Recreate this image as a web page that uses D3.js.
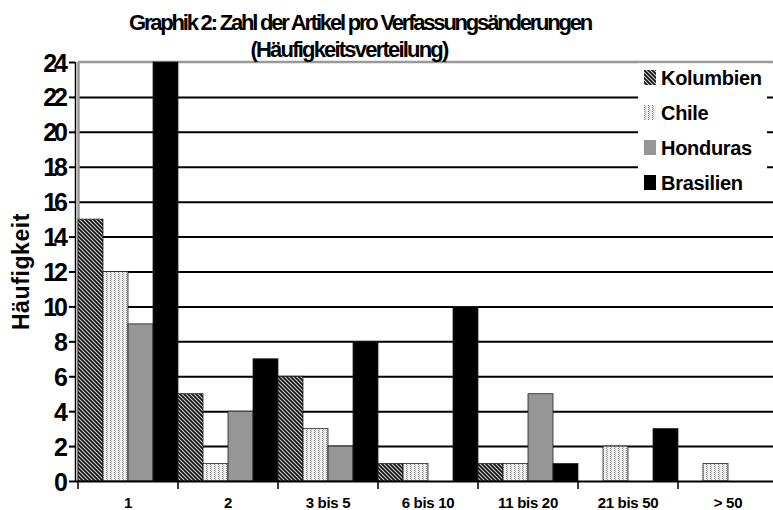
<!DOCTYPE html>
<html>
<head>
<meta charset="utf-8">
<script src="https://cdn.jsdelivr.net/npm/d3@7"></script>
<style>
  body { margin: 0; background: #fff; }
  svg { display: block; font-family: "Liberation Sans", Arial, sans-serif; font-weight: bold; }
</style>
</head>
<body>
<svg id="chart"></svg>
<script>
const categories = ["1", "2", "3 bis 5", "6 bis 10", "11 bis 20", "21 bis 50", "> 50"];
const series = ["Kolumbien", "Chile", "Honduras", "Brasilien"];
const kolumbien = [15, 5, 6, 1, 1, 0, 0];
const chile = [12, 1, 3, 1, 1, 2, 1];
const honduras = [9, 4, 2, 0, 5, 0, 0];
const brasilien = [24, 7, 8, 10, 1, 3, 0];
const yTicks = [0, 2, 4, 6, 8, 10, 12, 14, 16, 18, 20, 22, 24];

const values = [kolumbien, chile, honduras, brasilien];
const data = categories.map((c, i) => ({
  cat: c,
  vals: series.map((s, j) => ({ key: s, value: values[j][i] }))
}));

const W = 773, H = 510;
const plotLeft = 78, plotTop = 62, plotBottom = 481, plotRight = 778;
const axisX = 75;

const svg = d3.select("#chart").attr("width", W).attr("height", H);

// fill patterns
const defs = svg.append("defs");
const pk = defs.append("pattern").attr("id", "pKol")
  .attr("patternUnits", "userSpaceOnUse").attr("width", 4).attr("height", 4);
pk.append("rect").attr("width", 4).attr("height", 4).attr("fill", "#d0d0d0");
pk.append("path").attr("d", "M-1,-1 L5,5 M-1,3 L1,5 M3,-1 L5,1")
  .attr("stroke", "#111").attr("stroke-width", 1.7);

const pc = defs.append("pattern").attr("id", "pChi")
  .attr("patternUnits", "userSpaceOnUse").attr("width", 4).attr("height", 4);
pc.append("rect").attr("width", 4).attr("height", 4).attr("fill", "#eeeeee");
pc.append("rect").attr("x", 0).attr("y", 0).attr("width", 1).attr("height", 1).attr("fill", "#888");
pc.append("rect").attr("x", 1).attr("y", 1).attr("width", 1).attr("height", 1).attr("fill", "#aaa");
pc.append("rect").attr("x", 0).attr("y", 2).attr("width", 1).attr("height", 1).attr("fill", "#888");
pc.append("rect").attr("x", 1).attr("y", 3).attr("width", 1).attr("height", 1).attr("fill", "#aaa");

const fills = {
  "Kolumbien": "url(#pKol)",
  "Chile": "url(#pChi)",
  "Honduras": "#969696",
  "Brasilien": "#000"
};

const x = d3.scaleBand().domain(categories).range([plotLeft, plotRight]).padding(0);
const xs = d3.scaleBand().domain(series).range([0, x.bandwidth()]).padding(0);
const y = d3.scaleLinear().domain([0, 24]).range([plotBottom, plotTop]);

// grid lines
svg.append("g").selectAll("line")
  .data(yTicks.filter(t => t > 0 && t < 24))
  .enter().append("line")
  .attr("x1", plotLeft).attr("x2", W)
  .attr("y1", d => y(d) + 0.5).attr("y2", d => y(d) + 0.5)
  .attr("stroke", "#000").attr("stroke-width", 2);

// top border
svg.append("line")
  .attr("x1", plotLeft).attr("x2", W)
  .attr("y1", y(24)).attr("y2", y(24))
  .attr("stroke", "#999").attr("stroke-width", 2.5);

// left border
svg.append("line")
  .attr("x1", plotLeft + 0.5).attr("x2", plotLeft + 0.5)
  .attr("y1", plotTop).attr("y2", plotBottom)
  .attr("stroke", "#999").attr("stroke-width", 2.5);

// bars
const groups = svg.append("g").selectAll("g")
  .data(data).enter().append("g")
  .attr("transform", d => `translate(${x(d.cat)},0)`);

groups.selectAll("rect")
  .data(d => d.vals.filter(v => v.value > 0))
  .enter().append("rect")
  .attr("x", d => xs(d.key))
  .attr("y", d => y(d.value))
  .attr("width", xs.bandwidth())
  .attr("height", d => plotBottom - y(d.value))
  .attr("fill", d => fills[d.key])
  .attr("stroke", "#222")
  .attr("stroke-width", 0.8);

// y axis
const yAxis = svg.append("g")
  .attr("transform", `translate(${axisX},0)`)
  .call(d3.axisLeft(y).tickValues(yTicks).tickSize(6).tickPadding(4));
yAxis.select(".domain")
  .attr("stroke", "#000").attr("stroke-width", 1.5)
  .attr("d", `M0.5,${plotTop}V${plotBottom}`);
yAxis.selectAll(".tick line").attr("stroke", "#000").attr("stroke-width", 2);
yAxis.selectAll(".tick text")
  .attr("fill", "#000")
  .style("font-size", "25px")
  .style("font-weight", "bold")
  .style("letter-spacing", "-3px")
  .attr("dy", "0.36em");

// x axis
const xAxis = svg.append("g")
  .attr("transform", `translate(0,${plotBottom})`)
  .call(d3.axisBottom(x).tickSize(0).tickPadding(16));
xAxis.select(".domain").remove();
xAxis.append("line")
  .attr("x1", axisX).attr("x2", W)
  .attr("y1", 0.5).attr("y2", 0.5)
  .attr("stroke", "#000").attr("stroke-width", 2);
xAxis.selectAll(".boundary")
  .data(categories)
  .enter().append("line")
  .attr("class", "boundary")
  .attr("x1", d => x(d)).attr("x2", d => x(d))
  .attr("y1", 0).attr("y2", 8)
  .attr("stroke", "#000").attr("stroke-width", 1.5);
xAxis.selectAll(".tick text")
  .attr("fill", "#000")
  .style("font-size", "15px")
  .style("font-weight", "bold")
  .style("letter-spacing", "-0.3px");

// y title
svg.append("text")
  .attr("transform", `translate(29,${(plotTop + plotBottom) / 2}) rotate(-90)`)
  .attr("text-anchor", "middle")
  .style("font-size", "23px")
  .style("letter-spacing", "0.6px")
  .text("Häufigkeit");

// title
svg.append("text")
  .attr("x", 360).attr("y", 30)
  .attr("text-anchor", "middle")
  .style("font-size", "22px")
  .style("letter-spacing", "-2.2px")
  .text("Graphik 2: Zahl der Artikel pro Verfassungsänderungen");
svg.append("text")
  .attr("x", 349).attr("y", 57)
  .attr("text-anchor", "middle")
  .style("font-size", "22px")
  .style("letter-spacing", "-1.8px")
  .text("(Häufigkeitsverteilung)");

// legend
const legend = svg.append("g");
legend.append("rect")
  .attr("x", 638).attr("y", 63.5)
  .attr("width", W - 638 - 6).attr("height", 135.5)
  .attr("fill", "#fff");
const items = legend.selectAll(".item")
  .data(series).enter().append("g")
  .attr("class", "item")
  .attr("transform", (d, i) => `translate(644,${70 + i * 35})`);
items.append("rect")
  .attr("width", 12).attr("height", 15)
  .attr("fill", d => fills[d]);
items.append("text")
  .attr("x", 17).attr("y", 14.5)
  .style("font-size", "20px")
  .style("letter-spacing", "-0.3px")
  .text(d => d);
</script>
</body>
</html>
